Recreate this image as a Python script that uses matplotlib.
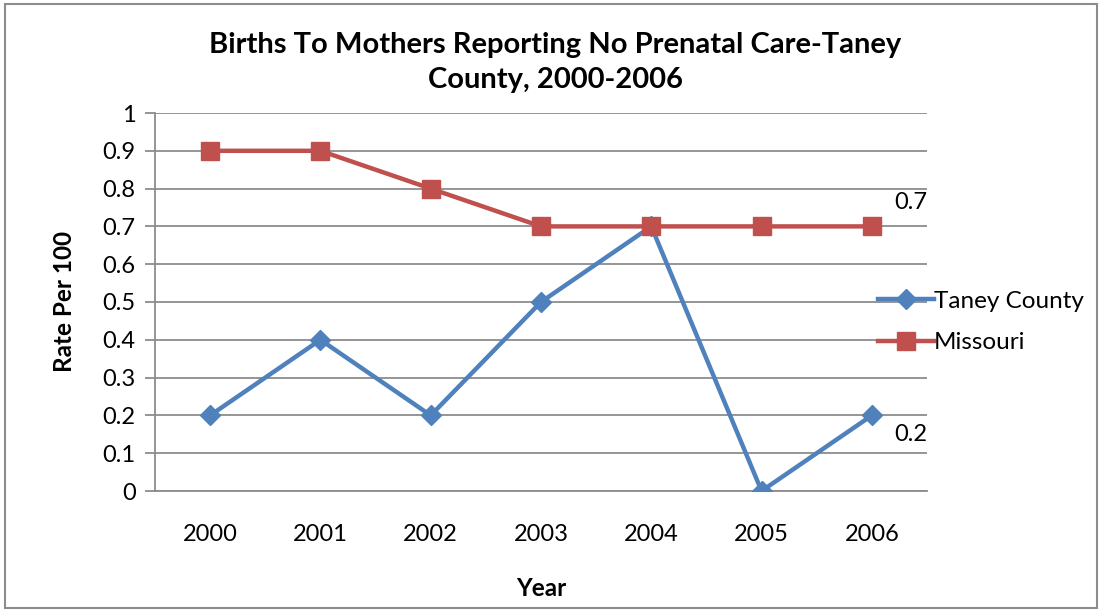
import matplotlib
matplotlib.use("Agg")
import matplotlib.pyplot as plt
from matplotlib.patches import Rectangle

years = ["2000", "2001", "2002", "2003", "2004", "2005", "2006"]
taney = [0.2, 0.4, 0.2, 0.5, 0.7, 0.0, 0.2]
missouri = [0.9, 0.9, 0.8, 0.7, 0.7, 0.7, 0.7]
yticks = [0, 0.1, 0.2, 0.3, 0.4, 0.5, 0.6, 0.7, 0.8, 0.9, 1]
ytick_labels = ["0", "0.1", "0.2", "0.3", "0.4", "0.5", "0.6", "0.7", "0.8", "0.9", "1"]

plt.rcParams['font.family'] = ['Lato', 'DejaVu Sans']

fig = plt.figure(figsize=(11, 6.11), dpi=100)
ax = fig.add_axes([155/1100, 1-491/611, (927-155)/1100, (491-113)/611])

x = list(range(len(years)))
grid_c = "#8c8c8c"
ln_t, = ax.plot(x, taney, color="#4F81BD", lw=3.2, marker="D", ms=10, zorder=3,
                label="Taney County")
ln_m, = ax.plot(x, missouri, color="#C0504D", lw=3.2, marker="s", ms=13, zorder=3,
                label="Missouri")

ax.set_xlim(-0.5, len(years) - 0.5)
ax.set_ylim(0, 1)
ax.set_yticks(yticks)
ax.set_yticklabels(ytick_labels)
ax.set_xticks(x)
ax.set_xticklabels(years)
ax.yaxis.grid(True, color=grid_c, lw=1.3)
ax.set_axisbelow(True)
for s in ["top", "right"]:
    ax.spines[s].set_visible(False)
for s in ["left", "bottom"]:
    ax.spines[s].set_color(grid_c)
    ax.spines[s].set_linewidth(1.3)
ax.tick_params(axis="y", length=7, color=grid_c, width=1.3, labelsize=17, pad=7)
ax.tick_params(axis="x", length=0, labelsize=17, pad=24)

ax.annotate("0.7", (x[-1], missouri[-1]), xytext=(16, 10), textcoords="offset points",
            fontsize=17, ha="left", va="bottom")
ax.annotate("0.2", (x[-1], taney[-1]), xytext=(16, -6), textcoords="offset points",
            fontsize=17, ha="left", va="top")

ax.set_ylabel("Rate Per 100", fontsize=17.5, fontweight="bold", labelpad=19)
ax.set_xlabel("Year", fontsize=17.5, fontweight="bold", labelpad=23)
fig.suptitle("Births To Mothers Reporting No Prenatal Care-Taney\nCounty, 2000-2006",
             x=555/1100, y=1-32/611, fontsize=21, fontweight="bold", va="top",
             linespacing=1.45)

fig.legend(handles=[ln_t, ln_m], loc="center left",
           bbox_to_anchor=(866/1100, 1-322/611), frameon=False, fontsize=17.5,
           handlelength=2.3, handletextpad=0.0, labelspacing=0.85, borderpad=0)

fig.patches.append(Rectangle((5/1100, 3/611), 1092/1100, 604/611, transform=fig.transFigure,
                             fill=False, edgecolor="#8c8c8c", lw=1.5))

fig.savefig("out.png", dpi=100)
